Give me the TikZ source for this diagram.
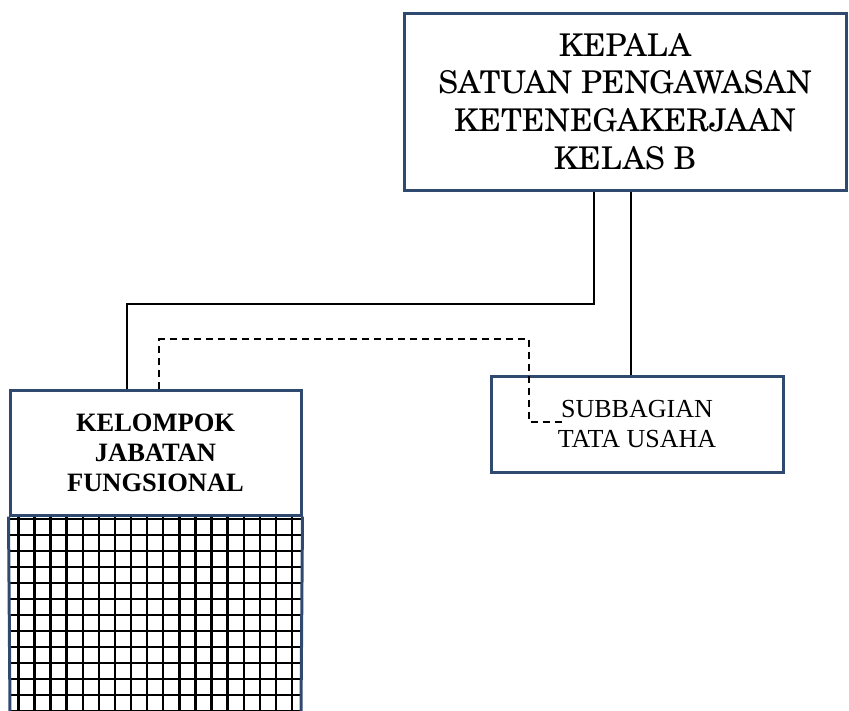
\documentclass[tikz,border=0pt]{standalone}
\usepackage{fontspec}
\setmainfont{Liberation Serif}
\newfontfamily\schola{TeX Gyre Schola}
\definecolor{bordblue}{RGB}{47,74,110}
\begin{document}
\begin{tikzpicture}[x=1pt,y=-1pt,
  box/.style={draw=bordblue, line width=3pt, inner sep=0pt, align=center, fill=white},
  conn/.style={line width=2pt, black},
  dconn/.style={conn, dash pattern=on 7pt off 5pt},
  gridln/.style={line width=2.4pt, black}]
\useasboundingbox (0,0) rectangle (849,710);
\coordinate (xa) at (594,0);
\coordinate (xb) at (631,0);
\coordinate (xc) at (127,0);
\coordinate (xd) at (159,0);
% grid
\begin{scope}
\clip (10,515) rectangle (301,712);
\foreach \i in {0,...,17} {\draw[gridln] (18.3+16.1*\i,515) -- (18.3+16.1*\i,712);}
\foreach \j in {0,...,12} {\draw[gridln] (10,519+16*\j) -- (301,519+16*\j);}
\end{scope}
\node[box, minimum width=442pt, minimum height=177pt,
      font=\schola\fontsize{31.3}{37.7}\selectfont] (kepala) at (625,101.5)
      {KEPALA\\SATUAN PENGAWASAN\\KETENEGAKERJAAN\\KELAS B};
\node[box, minimum width=291pt, minimum height=125pt,
      font=\bfseries\fontsize{26.5}{30}\selectfont] (kelompok) at (155.5,452.5)
      {KELOMPOK\\JABATAN\\FUNGSIONAL};
\node[box, minimum width=292pt, minimum height=96pt,
      font=\fontsize{26}{30}\selectfont] (subbag) at (637,424)
      {SUBBAGIAN\\TATA USAHA};
\draw[draw=bordblue, line width=3pt] (kelompok.south west) -- (10,712);
\draw[draw=bordblue, line width=3pt] (kelompok.south east) -- (301,712);
% connectors
\draw[conn] (kepala.south -| xa) |- (127,304) -- (kelompok.north -| xc);
\draw[conn] (kepala.south -| xb) -- (subbag.north -| xb);
\coordinate (dend) at (563,422);
\draw[dconn] (kelompok.north -| xd) |- (529,339) |- (dend);
\end{tikzpicture}
\end{document}
